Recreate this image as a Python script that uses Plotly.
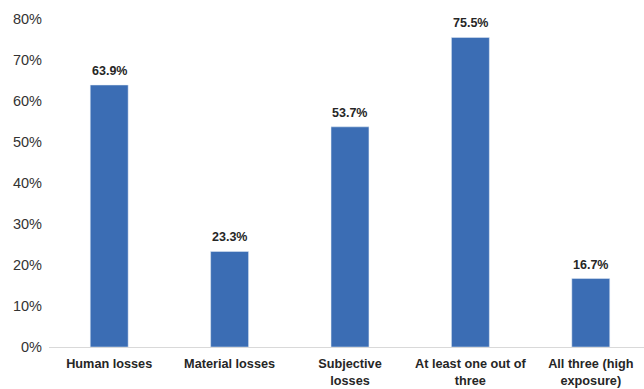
import plotly.graph_objects as go

categories = ["Human losses", "Material losses", "Subjective<br>losses",
              "At least one out of<br>three", "All three (high<br>exposure)"]
values = [63.9, 23.3, 53.7, 75.5, 16.7]
labels = [f"{v:.1f}%" for v in values]
yticks = [0, 10, 20, 30, 40, 50, 60, 70, 80]

fig = go.Figure(go.Bar(
    x=categories, y=values,
    marker=dict(color="#3B6DB4"), width=0.315,
))
for c, v, t in zip(categories, values, labels):
    fig.add_annotation(x=c, y=v, text=t, showarrow=False, yanchor="bottom", yshift=5,
                       font=dict(family="Liberation Sans, Arial", size=12.5,
                                 color="#262626", weight="bold"))
fig.update_layout(
    width=644, height=389,
    margin=dict(l=49, r=0, t=19, b=42),
    plot_bgcolor="white", paper_bgcolor="white",
    showlegend=False,
    font=dict(family="Liberation Sans, Arial"),
    xaxis=dict(range=[-0.5, 4.442], showline=True, linecolor="#D9D9D9", linewidth=1,
               ticks="", tickfont=dict(size=12.7, color="#262626", weight="bold"),
               showgrid=False, ticklabelstandoff=5, automargin=False),
    yaxis=dict(range=[0, 80], tickvals=yticks, ticktext=[f"{t}%" for t in yticks],
               showgrid=False, zeroline=False, showline=False, ticks="",
               tickfont=dict(size=14.5, color="#333333"), ticklabelstandoff=6,
               automargin=False),
)
fig.write_html("out.html")
